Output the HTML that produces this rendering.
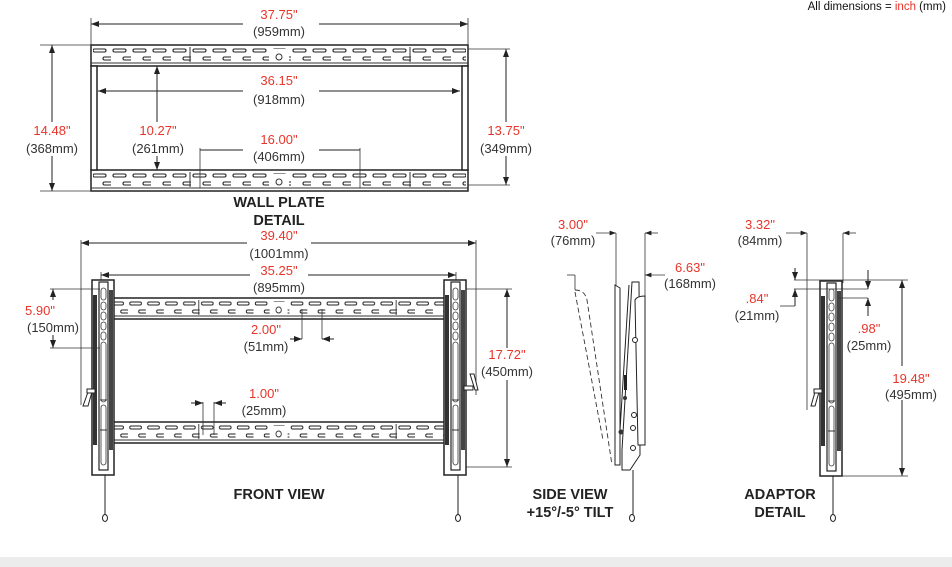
<!DOCTYPE html>
<html><head><meta charset="utf-8"><style>
html,body{margin:0;padding:0;background:#fff;width:952px;height:567px;overflow:hidden}
svg{display:block}
text{font-family:"Liberation Sans",Arial,sans-serif;font-size:13px;text-anchor:middle;fill:#333}
.r{fill:#e8352a}
.b{font-weight:bold;font-size:14.5px;fill:#222}
.d{stroke:#222;stroke-width:1;fill:none}
.t{stroke:#333;stroke-width:0.8;fill:none}
</style></head><body>
<svg width="952" height="567" viewBox="0 0 952 567" xmlns="http://www.w3.org/2000/svg">
<defs>
<marker id="a" viewBox="0 0 8 6" refX="8" refY="3" markerWidth="8" markerHeight="6" orient="auto-start-reverse"><path d="M0,0 L8,3 L0,6 z" fill="#222"/></marker>
<pattern id="s1" x="0" y="0" width="20" height="21" patternUnits="userSpaceOnUse">
<rect x="2" y="4" width="13" height="3" rx="1.5" fill="#fff" stroke="#222" stroke-width="1.1"/>
<rect x="12" y="12" width="13" height="3" rx="1.5" fill="#fff" stroke="#222" stroke-width="1.1"/>
</pattern>
<g id="rail">
<rect x="0" y="0" width="377" height="21" fill="#fff" stroke="#222" stroke-width="1.5"/>
<rect x="2" y="2" width="373" height="17" fill="url(#s1)"/>
<line x1="0" y1="18" x2="377" y2="18" stroke="#333" stroke-width="1"/>
<line x1="99" y1="2" x2="99" y2="17" stroke="#333"/><line x1="319" y1="2" x2="319" y2="17" stroke="#333"/>
<rect x="178" y="4" width="20" height="12" fill="#fff"/>
<circle cx="188" cy="12" r="3" fill="#fff" stroke="#333"/>
</g>
<g id="brk">
<rect x="0" y="0" width="22" height="195" fill="#fff" stroke="#222" stroke-width="1.5"/>
<rect x="1" y="15" width="4" height="150" fill="#333"/>
<rect x="17" y="10" width="4" height="160" fill="#444"/>
<rect x="7" y="2" width="9" height="188" fill="#fff" stroke="#222" stroke-width="1.2"/>
<rect x="9" y="8" width="5" height="12" rx="2.5" class="t"/><rect x="9" y="22" width="5" height="8" rx="2.5" class="t"/>
<rect x="9" y="32" width="5" height="8" rx="2.5" class="t"/><rect x="9" y="42" width="5" height="8" rx="2.5" class="t"/>
<rect x="9" y="52" width="5" height="8" rx="2.5" class="t"/><rect x="9" y="62" width="5" height="60" rx="2.5" class="t"/>
<rect x="9" y="125" width="5" height="60" rx="2.5" class="t"/>
<line x1="8" y1="120" x2="15" y2="120" stroke="#333"/><line x1="8" y1="150" x2="15" y2="150" stroke="#333"/>
</g>
</defs>

<text x="946" y="10" style="text-anchor:end;font-size:11.5px;fill:#111">All dimensions = <tspan class="r">inch</tspan> (mm)</text>

<!-- WALL PLATE -->
<use href="#rail" x="91" y="45"/>
<use href="#rail" x="91" y="170"/>
<rect x="91" y="66" width="6" height="104" fill="#fff" stroke="#222" stroke-width="1.5"/>
<rect x="462" y="66" width="6" height="104" fill="#fff" stroke="#222" stroke-width="1.5"/>
<line class="t" x1="91" y1="45" x2="91" y2="18"/><line class="t" x1="468" y1="45" x2="468" y2="18"/>
<path class="d" d="M91,24 H243 M319,24 H468" marker-start="url(#a)" marker-end="url(#a)"/>
<text x="279" y="19" class="r">37.75"</text><text x="279" y="36">(959mm)</text>
<path class="d" d="M98,91 H243 M319,91 H460" marker-start="url(#a)" marker-end="url(#a)"/>
<text x="279" y="85" class="r">36.15"</text><text x="279" y="104">(918mm)</text>
<line class="t" x1="40" y1="45" x2="91" y2="45"/><line class="t" x1="40" y1="191" x2="91" y2="191"/>
<path class="d" d="M52,45 V122 M52,156 V191" marker-start="url(#a)" marker-end="url(#a)"/>
<text x="52" y="135" class="r">14.48"</text><text x="52" y="153">(368mm)</text>
<path class="d" d="M157,66 V122 M157,156 V170" marker-start="url(#a)" marker-end="url(#a)"/>
<text x="158" y="135" class="r">10.27"</text><text x="158" y="153">(261mm)</text>
<line class="t" x1="200" y1="148" x2="200" y2="188"/><line class="t" x1="360" y1="148" x2="360" y2="188"/>
<path class="d" d="M200,150 H243 M319,150 H360"/>
<text x="279" y="144" class="r">16.00"</text><text x="279" y="161">(406mm)</text>
<line class="t" x1="468" y1="49" x2="510" y2="49"/><line class="t" x1="468" y1="185" x2="510" y2="185"/>
<path class="d" d="M506,49 V122 M506,156 V185" marker-start="url(#a)" marker-end="url(#a)"/>
<text x="506" y="135" class="r">13.75"</text><text x="506" y="153">(349mm)</text>
<text x="279" y="207" class="b">WALL PLATE</text><text x="279" y="225" class="b">DETAIL</text>

<!-- FRONT VIEW -->
<use href="#rail" transform="translate(110,298) scale(0.897,1)"/>
<use href="#rail" transform="translate(110,422) scale(0.897,1)"/>
<line class="t" x1="81" y1="240" x2="81" y2="405"/><line class="t" x1="476" y1="240" x2="476" y2="395"/>
<path class="d" d="M81,243 H247 M311,243 H476" marker-start="url(#a)" marker-end="url(#a)"/>
<text x="279" y="240" class="r">39.40"</text><text x="279" y="258">(1001mm)</text>
<line class="t" x1="101" y1="272" x2="101" y2="285"/><line class="t" x1="456" y1="272" x2="456" y2="285"/>
<path class="d" d="M101,275 H250 M308,275 H456" marker-start="url(#a)" marker-end="url(#a)"/>
<text x="279" y="275" class="r">35.25"</text><text x="279" y="292">(895mm)</text>
<use href="#brk" x="92" y="280"/>
<use href="#brk" x="444" y="280"/>
<path d="M83,406 L88,392 L92,392 L88,406 Z" fill="#fff" stroke="#222"/><rect x="87" y="389" width="8" height="4" fill="#fff" stroke="#222"/>
<path d="M475,390 L470,374 L474,374 L478,390 Z" fill="#fff" stroke="#222"/><rect x="464" y="386" width="9" height="4" fill="#fff" stroke="#222"/>
<line x1="105" y1="475" x2="105" y2="516" stroke="#222"/><ellipse cx="105" cy="518" rx="2.5" ry="3.5" fill="#fff" stroke="#222"/>
<line x1="458" y1="475" x2="458" y2="516" stroke="#222"/><ellipse cx="458" cy="518" rx="2.5" ry="3.5" fill="#fff" stroke="#222"/>
<line class="t" x1="50" y1="289" x2="100" y2="289"/><line class="t" x1="50" y1="348" x2="100" y2="348"/>
<path class="d" d="M53,289 V300 M53,335 V348" marker-start="url(#a)" marker-end="url(#a)"/>
<text x="40" y="315" class="r">5.90"</text><text x="53" y="332">(150mm)</text>
<line class="t" x1="302" y1="309" x2="302" y2="339"/><line class="t" x1="322" y1="309" x2="322" y2="339"/>
<path class="d" d="M290,339 H302" marker-end="url(#a)"/><path class="d" d="M334,339 H322" marker-end="url(#a)"/>
<text x="266" y="334" class="r">2.00"</text><text x="266" y="351">(51mm)</text>
<line class="t" x1="203" y1="402" x2="203" y2="435"/><line class="t" x1="214" y1="402" x2="214" y2="435"/>
<path class="d" d="M191,403 H203" marker-end="url(#a)"/><path class="d" d="M226,403 H214" marker-end="url(#a)"/>
<text x="264" y="398" class="r">1.00"</text><text x="264" y="415">(25mm)</text>
<line class="t" x1="466" y1="289" x2="512" y2="289"/><line class="t" x1="466" y1="467" x2="512" y2="467"/>
<path class="d" d="M507,289 V348 M507,380 V467" marker-start="url(#a)" marker-end="url(#a)"/>
<text x="507" y="359" class="r">17.72"</text><text x="507" y="376">(450mm)</text>
<text x="279" y="499" class="b">FRONT VIEW</text>

<!-- SIDE VIEW -->
<text x="573" y="229" class="r">3.00"</text><text x="573" y="245">(76mm)</text>
<line class="t" x1="596" y1="233" x2="616" y2="233" marker-end="url(#a)"/>
<line class="t" x1="616" y1="233" x2="616" y2="287"/>
<line class="t" x1="645" y1="233" x2="645" y2="298"/><line class="t" x1="658" y1="233" x2="645" y2="233" marker-end="url(#a)"/>
<line class="t" x1="665" y1="275" x2="645" y2="275" marker-end="url(#a)"/>
<text x="690" y="272" class="r">6.63"</text><text x="690" y="288">(168mm)</text>
<line class="t" x1="567" y1="275" x2="575" y2="275"/><line class="t" x1="575" y1="275" x2="575" y2="290"/>
<path d="M575,290 Q585,290 587,300 L612,465 M575,292 L603,440" stroke="#333" stroke-width="0.9" fill="none" stroke-dasharray="5,3"/>
<path d="M615,285 L620,288 L620,465 L615,465 Z" fill="#fff" stroke="#222"/>
<path d="M632,282 L639,282 L640,455 L630,470 L622,470 L622,450 Z" fill="#fff" stroke="#222"/>
<path d="M635,300 Q637,296 645,296 L645,445 L638,445 Z" fill="#fff" stroke="#222"/>
<line x1="629" y1="285" x2="620" y2="430" stroke="#222"/>
<circle cx="635" cy="340" r="2.5" fill="#fff" stroke="#222"/><circle cx="634" cy="415" r="2.5" fill="#fff" stroke="#222"/>
<circle cx="633" cy="428" r="2.5" fill="#fff" stroke="#222"/><circle cx="633" cy="448" r="2.5" fill="#fff" stroke="#222"/>
<circle cx="621" cy="432" r="2.5" fill="#333"/><circle cx="625" cy="398" r="2" fill="#333"/>
<rect x="624" y="375" width="3" height="15" fill="#222"/>
<line x1="633" y1="470" x2="633" y2="516" stroke="#222"/><ellipse cx="632" cy="518" rx="2.5" ry="3.5" fill="#fff" stroke="#222"/>
<text x="570" y="499" class="b">SIDE VIEW</text><text x="570" y="517" class="b">+15°/-5° TILT</text>

<!-- ADAPTOR -->
<text x="760" y="229" class="r">3.32"</text><text x="760" y="245">(84mm)</text>
<line class="t" x1="786" y1="233" x2="807" y2="233" marker-end="url(#a)"/>
<line class="t" x1="807" y1="233" x2="807" y2="410"/>
<line class="t" x1="843" y1="233" x2="843" y2="283"/><line class="t" x1="856" y1="233" x2="843" y2="233" marker-end="url(#a)"/>
<use href="#brk" x="820" y="281"/>
<path d="M811,406 L815,392 L819,392 L815,406 Z" fill="#fff" stroke="#222"/><rect x="814" y="389" width="8" height="4" fill="#fff" stroke="#222"/>
<line x1="833" y1="476" x2="833" y2="516" stroke="#222"/><ellipse cx="833" cy="518" rx="2.5" ry="3.5" fill="#fff" stroke="#222"/>
<line class="t" x1="794" y1="280" x2="908" y2="280"/>
<line class="t" x1="794" y1="289" x2="868" y2="289"/>
<line class="t" x1="838" y1="298" x2="868" y2="298"/>
<path class="d" d="M795,268 V280" marker-end="url(#a)"/><path class="d" d="M795,306 V289" marker-end="url(#a)"/>
<line class="t" x1="780" y1="306" x2="795" y2="306"/>
<path class="d" d="M868,270 V289" marker-end="url(#a)"/><path class="d" d="M868,316 V298" marker-end="url(#a)"/>
<text x="757" y="303" class="r">.84"</text><text x="757" y="320">(21mm)</text>
<text x="869" y="333" class="r">.98"</text><text x="869" y="350">(25mm)</text>
<line class="t" x1="840" y1="476" x2="908" y2="476"/>
<path class="d" d="M902,280 V366 M902,400 V476" marker-start="url(#a)" marker-end="url(#a)"/>
<text x="911" y="383" class="r">19.48"</text><text x="911" y="399">(495mm)</text>
<text x="780" y="499" class="b">ADAPTOR</text><text x="780" y="517" class="b">DETAIL</text>

<rect x="0" y="557" width="952" height="10" fill="#ececec"/>
</svg>
</body></html>
